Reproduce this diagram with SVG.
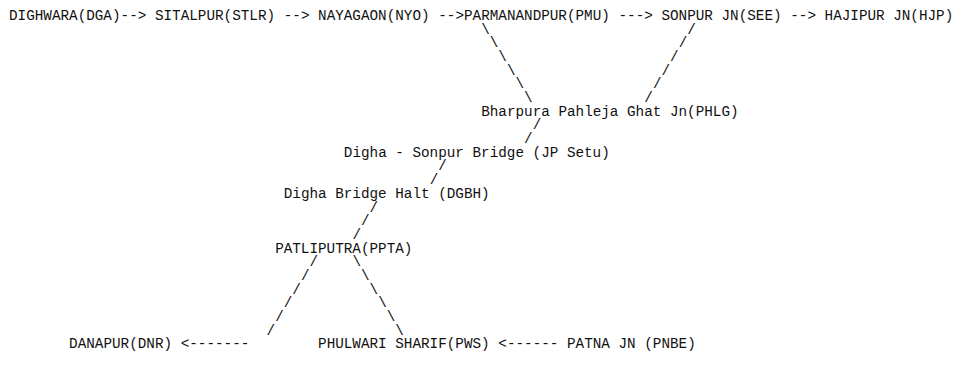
<svg xmlns="http://www.w3.org/2000/svg" width="960" height="381" viewBox="0 0 960 381">
<style>
text{font-family:"Liberation Mono","DejaVu Sans Mono",monospace;font-size:14.31px;fill:#111;}
</style>
<rect width="960" height="381" fill="#fff"/>
<g id="connectors">
<text x="120.6" y="20">--&gt;</text>
<text x="283.72" y="20">--&gt;</text>
<text x="438.25" y="20">--&gt;</text>
<text x="618.54" y="20">---&gt;</text>
<text x="790.24" y="20">--&gt;</text>
<text x="481.18" y="33.68">\</text>
<text x="489.76" y="47.36">\</text>
<text x="498.35" y="61.04">\</text>
<text x="506.93" y="74.72">\</text>
<text x="515.52" y="88.4">\</text>
<text x="524.1" y="102.08">\</text>
<text x="687.2" y="33.68">/</text>
<text x="678.63" y="47.36">/</text>
<text x="670.05" y="61.04">/</text>
<text x="661.46" y="74.72">/</text>
<text x="652.88" y="88.4">/</text>
<text x="644.29" y="102.08">/</text>
<text x="532.69" y="129.44">/</text>
<text x="524.1" y="143.12">/</text>
<text x="438.25" y="170.48">/</text>
<text x="429.67" y="184.16">/</text>
<text x="369.57" y="211.52">/</text>
<text x="360.99" y="225.2">/</text>
<text x="352.4" y="238.88">/</text>
<text x="309.48" y="266.24">/</text>
<text x="300.89" y="279.92">/</text>
<text x="292.31" y="293.6">/</text>
<text x="283.72" y="307.28">/</text>
<text x="275.14" y="320.96">/</text>
<text x="266.55" y="334.64">/</text>
<text x="352.4" y="266.24">\</text>
<text x="360.99" y="279.92">\</text>
<text x="369.57" y="293.6">\</text>
<text x="378.16" y="307.28">\</text>
<text x="386.74" y="320.96">\</text>
<text x="395.33" y="334.64">\</text>
<text x="180.7" y="348.32">&lt;-------</text>
<text x="498.35" y="348.32">&lt;------</text>
</g>
<g id="node-DGA"><text x="9" y="20">DIGHWARA(DGA)</text></g>
<g id="node-STLR"><text x="154.95" y="20">SITALPUR(STLR)</text></g>
<g id="node-NYO"><text x="318.06" y="20">NAYAGAON(NYO)</text></g>
<g id="node-PMU"><text x="464" y="20">PARMANANDPUR(PMU)</text></g>
<g id="node-SEE"><text x="661.46" y="20">SONPUR JN(SEE)</text></g>
<g id="node-HJP"><text x="824.58" y="20">HAJIPUR JN(HJP)</text></g>
<g id="node-PHLG"><text x="481.18" y="115.76">Bharpura Pahleja Ghat Jn(PHLG)</text></g>
<g id="node-JPSETU"><text x="343.82" y="156.8">Digha - Sonpur Bridge (JP Setu)</text></g>
<g id="node-DGBH"><text x="283.72" y="197.84">Digha Bridge Halt (DGBH)</text></g>
<g id="node-PPTA"><text x="275.14" y="252.56">PATLIPUTRA(PPTA)</text></g>
<g id="node-DNR"><text x="69.1" y="348.32">DANAPUR(DNR)</text></g>
<g id="node-PWS"><text x="318.06" y="348.32">PHULWARI SHARIF(PWS)</text></g>
<g id="node-PNBE"><text x="567.03" y="348.32">PATNA JN (PNBE)</text></g>
</svg>
